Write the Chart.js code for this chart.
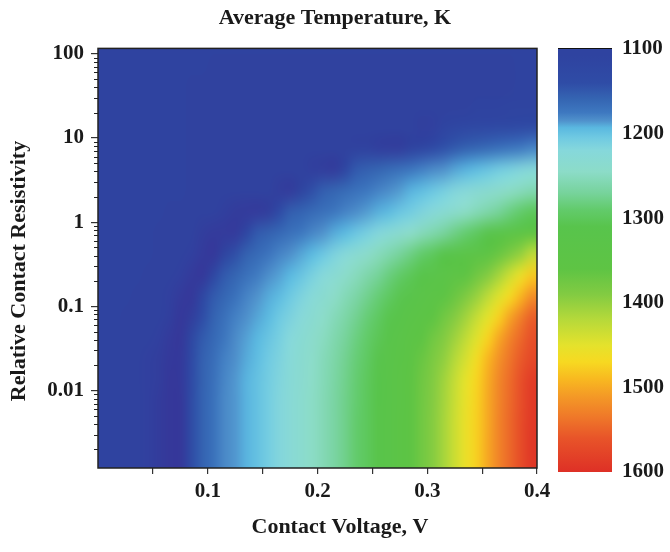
<!DOCTYPE html>
<html>
<head>
<meta charset="utf-8">
<script src="https://cdn.jsdelivr.net/npm/chart.js@4.4.1/dist/chart.umd.min.js"></script>
<style>
  html, body { margin: 0; padding: 0; background: #fff; }
  #wrap { position: relative; width: 670px; height: 552px; }
  #heat { position: absolute; left: 0; top: 0; }
  #bar { position: absolute; left: 540px; top: 0; }
</style>
</head>
<body>
<div id="wrap">
  <canvas id="heat" width="670" height="552"></canvas>
  <canvas id="bar" width="130" height="552"></canvas>
</div>
<script>
// cell centres: contact voltage (V) and relative contact resistivity (quarter decades)
const voltages = [0.005, 0.015, 0.025, 0.035, 0.045, 0.055, 0.065, 0.075, 0.085, 0.095,
  0.105, 0.115, 0.125, 0.135, 0.145, 0.155, 0.165, 0.175, 0.185, 0.195,
  0.205, 0.215, 0.225, 0.235, 0.245, 0.255, 0.265, 0.275, 0.285, 0.295,
  0.305, 0.315, 0.325, 0.335, 0.345, 0.355, 0.365, 0.375, 0.385, 0.395];
const resistivities = [0.00133, 0.00237, 0.00422, 0.0075, 0.0133, 0.0237, 0.0422, 0.075,
  0.133, 0.237, 0.422, 0.75, 1.33, 2.37, 4.22, 7.5, 13.3, 23.7, 42.2, 75, 133];

// average temperature, K (one row per resistivity, bottom to top)
const temperature = [
  [1108,1108,1107,1107,1106,1103,1100,1100,1137,1157, 1169,1181,1186,1192,1199,1208,1217,1227,1236,1246,
   1255,1266,1277,1289,1300,1315,1330,1345,1360,1376, 1392,1411,1434,1456,1476,1501,1526,1546,1568,1590],
  [1108,1108,1107,1107,1106,1103,1100,1100,1137,1157, 1169,1181,1186,1192,1199,1208,1217,1227,1236,1246,
   1255,1266,1277,1289,1300,1315,1330,1345,1360,1376, 1392,1411,1434,1456,1476,1501,1526,1546,1568,1591],
  [1108,1108,1107,1107,1106,1103,1100,1100,1137,1157, 1169,1181,1186,1192,1199,1208,1217,1227,1236,1246,
   1255,1266,1277,1289,1300,1315,1330,1345,1360,1376, 1392,1411,1434,1456,1476,1500,1526,1546,1568,1589],
  [1108,1108,1107,1107,1106,1103,1100,1100,1136,1157, 1169,1181,1186,1192,1199,1208,1217,1227,1236,1246,
   1255,1266,1277,1288,1300,1314,1329,1344,1359,1375, 1391,1409,1432,1454,1475,1500,1525,1545,1566,1588],
  [1108,1108,1107,1107,1106,1104,1100,1101,1134,1156, 1168,1180,1186,1192,1199,1207,1216,1226,1235,1245,
   1254,1265,1276,1287,1299,1313,1328,1343,1358,1374, 1389,1407,1429,1451,1473,1498,1523,1543,1564,1586],
  [1108,1108,1107,1107,1106,1104,1101,1101,1131,1155, 1166,1178,1184,1190,1196,1205,1214,1224,1234,1243,
   1253,1263,1274,1285,1296,1309,1324,1339,1354,1369, 1384,1398,1419,1440,1465,1491,1516,1537,1556,1572],
  [1108,1108,1107,1107,1107,1106,1102,1100,1121,1151, 1162,1173,1182,1188,1193,1201,1210,1220,1230,1240,
   1249,1259,1270,1281,1291,1303,1317,1331,1346,1360, 1375,1390,1406,1426,1447,1474,1501,1526,1546,1565],
  [1108,1108,1107,1107,1107,1107,1105,1100,1104,1140, 1157,1168,1178,1184,1189,1194,1204,1213,1223,1233,
   1243,1253,1263,1274,1285,1296,1308,1321,1334,1347, 1360,1375,1391,1408,1429,1449,1475,1503,1529,1552],
  [1108,1108,1108,1107,1107,1107,1106,1102,1100,1118, 1150,1160,1169,1179,1185,1190,1195,1204,1214,1224,
   1234,1244,1254,1264,1275,1285,1296,1307,1319,1331, 1343,1355,1370,1386,1402,1423,1445,1467,1491,1517],
  [1108,1108,1108,1108,1107,1107,1107,1106,1102,1100, 1118,1150,1159,1168,1176,1183,1188,1193,1201,1211,
   1221,1231,1241,1251,1261,1271,1282,1292,1302,1314, 1325,1336,1348,1359,1374,1390,1409,1433,1456,1479],
  [1108,1108,1108,1108,1108,1107,1107,1107,1106,1102, 1100,1110,1142,1156,1163,1171,1179,1184,1189,1194,
   1203,1213,1222,1232,1241,1251,1260,1270,1280,1290, 1300,1311,1322,1333,1344,1355,1368,1384,1400,1423],
  [1108,1108,1108,1108,1108,1107,1107,1107,1107,1104, 1102,1102,1102,1118,1150,1156,1162,1168,1174,1180,
   1185,1190,1194,1202,1210,1218,1226,1235,1243,1252, 1260,1269,1279,1288,1298,1309,1322,1334,1346,1359],
  [1108,1108,1108,1108,1108,1108,1107,1107,1107,1107, 1107,1105,1103,1102,1102,1104,1134,1153,1158,1163,
   1168,1173,1179,1183,1187,1191,1195,1202,1208,1215, 1222,1230,1238,1246,1254,1262,1271,1281,1290,1300],
  [1108,1108,1108,1108,1108,1108,1108,1108,1107,1107, 1107,1107,1107,1107,1107,1107,1104,1103,1110,1142,
   1154,1159,1164,1169,1174,1179,1183,1187,1192,1197, 1203,1210,1217,1223,1229,1234,1240,1246,1251,1257],
  [1108,1108,1108,1108,1108,1108,1108,1108,1107,1107, 1107,1107,1107,1107,1107,1107,1107,1107,1107,1105,
   1104,1103,1118,1150,1155,1159,1164,1168,1173,1178, 1182,1185,1189,1192,1196,1201,1207,1212,1217,1222],
  [1108,1108,1108,1108,1108,1108,1108,1108,1107,1107, 1107,1107,1107,1107,1107,1107,1107,1107,1107,1107,
   1107,1107,1107,1107,1107,1105,1104,1104,1108,1118, 1133,1144,1151,1157,1161,1165,1169,1173,1176,1180],
  [1108,1108,1108,1108,1108,1108,1108,1108,1107,1107, 1107,1107,1107,1107,1107,1107,1107,1107,1107,1107,
   1107,1107,1107,1107,1107,1107,1107,1107,1107,1105, 1106,1111,1117,1123,1125,1127,1129,1131,1133,1136],
  [1108,1108,1108,1108,1108,1108,1108,1108,1107,1107, 1107,1107,1107,1107,1107,1107,1107,1107,1107,1107,
   1107,1107,1107,1107,1107,1107,1107,1107,1107,1107, 1107,1107,1107,1107,1108,1108,1109,1110,1110,1110],
  [1108,1108,1108,1108,1108,1108,1108,1108,1107,1107, 1107,1107,1107,1107,1107,1107,1107,1107,1107,1107,
   1107,1107,1107,1107,1107,1107,1107,1107,1107,1107, 1107,1107,1107,1107,1107,1107,1107,1107,1108,1108],
  [1108,1108,1108,1108,1108,1108,1108,1108,1108,1108, 1107,1107,1107,1107,1107,1107,1107,1107,1107,1107,
   1107,1107,1107,1107,1107,1107,1107,1107,1107,1107, 1107,1107,1107,1107,1107,1107,1107,1107,1108,1108],
  [1108,1108,1108,1108,1108,1108,1108,1108,1108,1108, 1108,1108,1108,1108,1108,1108,1108,1108,1108,1108,
   1108,1108,1108,1108,1108,1108,1108,1108,1108,1108, 1108,1108,1108,1108,1108,1108,1108,1108,1108,1108]
];

// axis ticks
const voltageTicks = [0.05, 0.1, 0.15, 0.2, 0.25, 0.3, 0.35, 0.4];
const voltageTickLabels = ['', '0.1', '', '0.2', '', '0.3', '', '0.4'];
const resistivityTicks = [0.01, 0.1, 1, 10, 100];
const resistivityTickLabels = ['0.01', '0.1', '1', '10', '100'];
const temperatureTicks = [1100, 1200, 1300, 1400, 1500, 1600];

// colour map (K -> colour)
const colorStops = [1100, 1108, 1140, 1160, 1175, 1185, 1193, 1205, 1220, 1245, 1270, 1290,
  1310, 1360, 1390, 1420, 1450, 1470, 1490, 1510, 1535, 1560, 1600];
const stopColors = ['#35389a', '#2f43a0', '#2f4ca6', '#3566b3', '#3e78c0', '#5092cc', '#5ab8e0',
  '#70cae2', '#86d8db', '#8cdcc8', '#77d39c', '#62cb6b', '#58c44c', '#5ec444', '#82cb42', '#b6d93a',
  '#e4e22c', '#f7d921', '#f8b920', '#f49a26', '#ef7829', '#e85429', '#de3026'];

const FONT = "'Liberation Serif', 'Times New Roman', serif";
const INK = '#1a1a1a';

function hexRgb(h) {
  return [parseInt(h.slice(1, 3), 16), parseInt(h.slice(3, 5), 16), parseInt(h.slice(5, 7), 16)];
}
const stopRgb = stopColors.map(hexRgb);

function rgbFor(t) {
  if (t <= colorStops[0]) return stopRgb[0];
  for (let i = 1; i < colorStops.length; i++) {
    if (t <= colorStops[i]) {
      const f = (t - colorStops[i - 1]) / (colorStops[i] - colorStops[i - 1]);
      const a = stopRgb[i - 1], b = stopRgb[i];
      return a.map((c, k) => Math.round(c + (b[k] - c) * f));
    }
  }
  return stopRgb[stopRgb.length - 1];
}

const cells = [];
resistivities.forEach((r, i) => {
  voltages.forEach((v, j) => cells.push({ x: v, y: r, t: temperature[i][j] }));
});

// paints the data points as an image (one pixel per cell), stretched over the
// cell extent through the scales with smooth shading, like imshow
let cellImage = null;
const heatmapPlugin = {
  id: 'heatmap',
  beforeDatasetsDraw(chart) {
    const { ctx, chartArea: a, scales: { x, y } } = chart;
    const nx = voltages.length, ny = resistivities.length;
    if (!cellImage) {
      cellImage = document.createElement('canvas');
      cellImage.width = nx;
      cellImage.height = ny;
      const ictx = cellImage.getContext('2d');
      const img = ictx.createImageData(nx, ny);
      chart.data.datasets[0].data.forEach(p => {
        const j = voltages.indexOf(p.x);
        const i = ny - 1 - resistivities.indexOf(p.y);
        const c = rgbFor(p.t);
        const o = (i * nx + j) * 4;
        img.data[o] = c[0]; img.data[o + 1] = c[1]; img.data[o + 2] = c[2]; img.data[o + 3] = 255;
      });
      ictx.putImageData(img, 0, 0);
    }
    const dv = (voltages[1] - voltages[0]) / 2;
    const kr = Math.sqrt(resistivities[1] / resistivities[0]);
    const x0 = x.getPixelForValue(voltages[0] - dv);
    const x1 = x.getPixelForValue(voltages[nx - 1] + dv);
    const y0 = y.getPixelForValue(resistivities[ny - 1] * kr);
    const y1 = y.getPixelForValue(resistivities[0] / kr);
    ctx.save();
    ctx.beginPath();
    ctx.rect(a.left, a.top, a.right - a.left, a.bottom - a.top);
    ctx.clip();
    ctx.imageSmoothingEnabled = true;
    ctx.imageSmoothingQuality = 'high';
    ctx.drawImage(cellImage, x0, y0, x1 - x0, y1 - y0);
    ctx.restore();
  }
};

// frame, minor log ticks and axis titles
const framePlugin = {
  id: 'frame',
  afterDraw(chart) {
    const { ctx, chartArea: a, scales: { y } } = chart;
    ctx.save();
    ctx.strokeStyle = '#222';
    ctx.lineWidth = 1.2;
    ctx.beginPath();
    for (let e = -3; e <= 2; e++) {
      for (let k = 2; k <= 9; k++) {
        const v = k * Math.pow(10, e);
        if (v < y.min || v > y.max) continue;
        const py = Math.round(y.getPixelForValue(v)) + 0.5;
        ctx.moveTo(a.left - 4, py);
        ctx.lineTo(a.left, py);
      }
    }
    ctx.stroke();
    ctx.lineWidth = 1.5;
    ctx.strokeRect(a.left, a.top, a.right - a.left, a.bottom - a.top);

    ctx.fillStyle = INK;
    ctx.font = 'bold 22px ' + FONT;
    ctx.textAlign = 'center';
    ctx.textBaseline = 'middle';
    ctx.fillText('Contact Voltage, V', 340, 527);
    ctx.translate(19, 271);
    ctx.rotate(-Math.PI / 2);
    ctx.fillText('Relative Contact Resistivity', 0, 0);
    ctx.restore();
  }
};

new Chart(document.getElementById('heat'), {
  type: 'scatter',
  data: {
    datasets: [{ label: 'Average Temperature, K', data: cells, pointRadius: 0, pointHoverRadius: 0 }]
  },
  options: {
    responsive: false,
    animation: false,
    layout: { padding: 0 },
    plugins: {
      legend: { display: false },
      tooltip: { enabled: false },
      title: {
        display: true,
        text: 'Average Temperature, K',
        color: INK,
        font: { family: FONT, size: 22, weight: 'bold' },
        padding: { top: 5, bottom: 17 }
      }
    },
    scales: {
      x: {
        type: 'linear',
        min: 0,
        max: 0.4,
        afterBuildTicks: s => { s.ticks = voltageTicks.map(v => ({ value: v })); },
        afterFit: s => { s.height = 84; },
        grid: { drawOnChartArea: false, drawTicks: true, tickLength: 6, color: '#333', lineWidth: 1.2 },
        border: { display: false },
        ticks: {
          callback: (v, i) => voltageTickLabels[i],
          autoSkip: false,
          maxRotation: 0,
          padding: 5,
          color: INK,
          font: { family: FONT, size: 21, weight: 'bold' }
        }
      },
      y: {
        type: 'logarithmic',
        min: 0.0012,
        max: 116,
        afterBuildTicks: s => { s.ticks = resistivityTicks.map(v => ({ value: v })); },
        afterFit: s => { s.width = 98; },
        grid: { drawOnChartArea: false, drawTicks: true, tickLength: 7, color: '#333', lineWidth: 1.2 },
        border: { display: false },
        ticks: {
          callback: (v, i) => resistivityTickLabels[i],
          autoSkip: false,
          padding: 7,
          color: INK,
          font: { family: FONT, size: 21, weight: 'bold' }
        }
      },
      // empty room on the right for the colour bar
      cb: {
        type: 'linear',
        position: 'right',
        min: 0,
        max: 1,
        afterFit: s => { s.width = 133; },
        grid: { display: false },
        border: { display: false },
        ticks: { display: false }
      }
    }
  },
  plugins: [heatmapPlugin, framePlugin]
});

// colour bar
new Chart(document.getElementById('bar'), {
  type: 'bar',
  data: {
    labels: ['K'],
    datasets: [{
      data: [[temperatureTicks[0], temperatureTicks[temperatureTicks.length - 1]]],
      barPercentage: 1,
      categoryPercentage: 1,
      borderWidth: 0,
      backgroundColor(c) {
        const chart = c.chart;
        if (!chart.chartArea || !chart.scales.y) return stopColors[1];
        const ys = chart.scales.y;
        const y0 = ys.getPixelForValue(colorStops[0]);
        const y1 = ys.getPixelForValue(colorStops[colorStops.length - 1]);
        const g = chart.ctx.createLinearGradient(0, y0, 0, y1);
        colorStops.forEach((s, i) => {
          // the bar itself starts on the main blue
          g.addColorStop((ys.getPixelForValue(s) - y0) / (y1 - y0), i === 0 ? stopColors[1] : stopColors[i]);
        });
        return g;
      }
    }]
  },
  options: {
    responsive: false,
    animation: false,
    layout: { padding: { left: 18, right: 0, top: 49, bottom: 80 } },
    plugins: { legend: { display: false }, tooltip: { enabled: false } },
    scales: {
      x: { type: 'category', display: false },
      y: {
        type: 'linear',
        position: 'right',
        reverse: true,
        min: 1100,
        max: 1600,
        z: 1,
        afterBuildTicks: s => { s.ticks = temperatureTicks.map(v => ({ value: v })); },
        afterFit: s => { s.width = 58; },
        grid: {
          drawTicks: false,
          drawOnChartArea: true,
          lineWidth: 2,
          color: c => (c.tick && c.tick.value === 1100 ? '#111' : 'rgba(0,0,0,0)')
        },
        border: { display: false },
        ticks: {
          callback: v => String(v),
          padding: 10,
          color: INK,
          font: { family: FONT, size: 21, weight: 'bold' }
        }
      }
    }
  }
});
</script>
</body>
</html>
